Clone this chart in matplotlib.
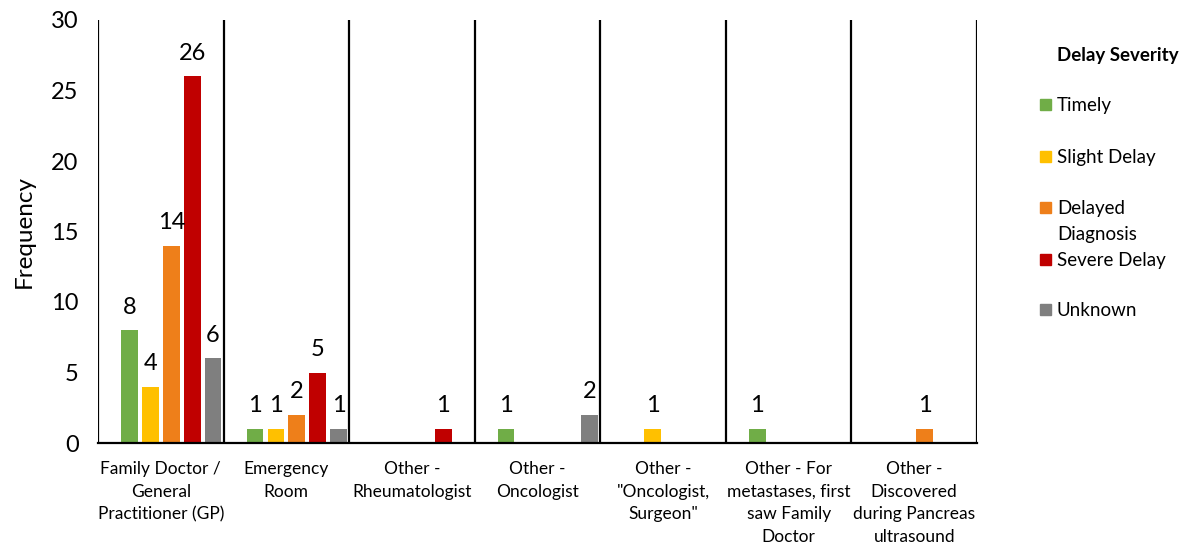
import matplotlib
matplotlib.use("Agg")
import matplotlib.pyplot as plt
from matplotlib.patches import Rectangle
import numpy as np

plt.rcParams["font.family"] = ["Lato", "DejaVu Sans"]

categories = [
    "Family Doctor /\nGeneral\nPractitioner (GP)",
    "Emergency\nRoom",
    "Other -\nRheumatologist",
    "Other -\nOncologist",
    "Other -\n\"Oncologist,\nSurgeon\"",
    "Other - For\nmetastases, first\nsaw Family\nDoctor",
    "Other -\nDiscovered\nduring Pancreas\nultrasound",
]
series = ["Timely", "Slight Delay", "Delayed\nDiagnosis", "Severe Delay", "Unknown"]
timely = [8, 1, 0, 1, 0, 1, 0]
slight = [4, 1, 0, 0, 1, 0, 0]
delayed = [14, 2, 0, 0, 0, 0, 1]
severe = [26, 5, 1, 0, 0, 0, 0]
unknown = [6, 1, 0, 2, 0, 0, 0]
colors = ["#70AD47", "#FFC000", "#EE7F1A", "#C00000", "#7F7F7F"]

W, H = 1185, 546
fig = plt.figure(figsize=(W / 100, H / 100), dpi=100)
ax = fig.add_axes([98 / W, 1 - 443 / H, (977 - 98) / W, (443 - 20) / H])

x = np.arange(len(categories))
slot = 1 / 6
for i, (vals, col) in enumerate(zip([timely, slight, delayed, severe, unknown], colors)):
    pos = x - 0.5 + (i + 1.5) * slot
    bars = ax.bar(pos, vals, width=slot * 0.8, color=col, zorder=2)
    for b, v in zip(bars, vals):
        if v:
            ax.annotate(str(v), (b.get_x() + b.get_width() / 2, v), xytext=(0, 9),
                        textcoords="offset points", ha="center", va="bottom", fontsize=17)

for k in range(len(categories) + 1):
    ax.axvline(k - 0.5, color="black", lw=1.6, zorder=3)

ax.set_xlim(-0.5, len(categories) - 0.5)
ax.set_ylim(0, 30)
ax.set_yticks(range(0, 31, 5))
ax.set_xticks(x, categories, fontsize=12.5, linespacing=1.5)
ax.tick_params(axis="both", length=0)
ax.tick_params(axis="y", labelsize=17, pad=14)
ax.tick_params(axis="x", pad=13)
for s in ["top", "right", "left"]:
    ax.spines[s].set_visible(False)
ax.spines["bottom"].set_linewidth(1.6)
ax.set_ylabel("Frequency", fontsize=17.5, labelpad=12)

# legend drawn by hand to keep Excel's fixed slot spacing
fig.text(1057 / W, 1 - 55 / H, "Delay Severity", fontsize=13.5, fontweight="bold", va="center")
ys = [105, 157, 208, 260, 310]
for lab, col, y in zip(series, colors, ys):
    fig.patches.append(Rectangle((1040 / W, 1 - (y + 5) / H), 11 / W, 11 / H,
                                 transform=fig.transFigure, color=col))
    fig.text(1057 / W, 1 - (y - 8) / H, lab, fontsize=13.5, va="top", linespacing=1.65)

fig.savefig("out.png", dpi=100)
